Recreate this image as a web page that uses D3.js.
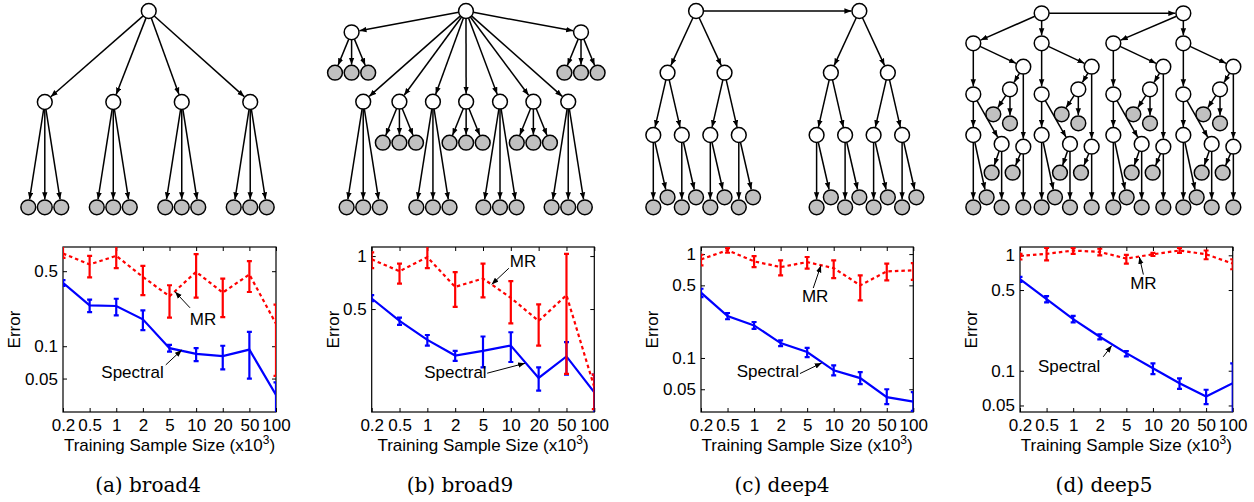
<!DOCTYPE html>
<meta charset="utf-8">
<style>
body { margin: 0; background: #fff; }
text { font-family: "Liberation Sans", Arial, sans-serif; }
.caption { font-family: "DejaVu Serif", serif; font-size: 20px; }
</style>
<svg width="1254" height="502"></svg>
<script src="https://d3js.org/d3.v7.min.js"></script>
<script>

// ---------------- data ----------------

var xLabels = ["0.2", "0.5", "1", "2", "5", "10", "20", "50", "100"];

// (a) broad4
var mrA    = [0.73, 0.578, 0.695, 0.442, 0.292, 0.493, 0.316, 0.466, 0.162];
var mrALo  = [0.665, 0.437, 0.535, 0.299, 0.185, 0.284, 0.187, 0.320, 0.053];
var mrAHi  = [0.87, 0.695, 0.87, 0.560, 0.370, 0.72, 0.427, 0.620, 0.244];
var spA    = [0.389, 0.240, 0.237, 0.178, 0.096, 0.085, 0.081, 0.093, 0.0352];
var spALo  = [0.365, 0.208, 0.194, 0.141, 0.089, 0.0726, 0.061, 0.050, 0.02];
var spAHi  = [0.412, 0.272, 0.277, 0.216, 0.103, 0.096, 0.101, 0.136, 0.046];

// (b) broad9
var mrB    = [0.958, 0.820, 0.987, 0.668, 0.745, 0.579, 0.428, 0.600, 0.18];
var mrBLo  = [0.854, 0.698, 0.854, 0.515, 0.582, 0.415, 0.310, 0.214, 0.135];
var mrBHi  = [1.05, 0.905, 1.15, 0.81, 0.905, 0.72, 0.531, 1.03, 0.212];
var spB    = [0.574, 0.428, 0.334, 0.272, 0.289, 0.310, 0.203, 0.269, 0.168];
var spBLo  = [0.554, 0.406, 0.310, 0.254, 0.233, 0.250, 0.172, 0.212, 0.12];
var spBHi  = [0.600, 0.447, 0.356, 0.289, 0.349, 0.369, 0.233, 0.324, 0.212];

// (c) deep4
var mrC    = [0.889, 1.09, 0.851, 0.75, 0.837, 0.733, 0.50, 0.682, 0.697];
var mrCLo  = [0.778, 1.03, 0.75, 0.624, 0.723, 0.588, 0.359, 0.558, 0.565];
var mrCHi  = [0.985, 1.14, 0.955, 0.87, 0.937, 0.87, 0.624, 0.809, 0.82];
var spC    = [0.425, 0.253, 0.206, 0.139, 0.114, 0.076, 0.064, 0.042, 0.038];
var spCLo  = [0.386, 0.236, 0.191, 0.130, 0.102, 0.068, 0.056, 0.036, 0.031];
var spCHi  = [0.464, 0.271, 0.222, 0.148, 0.125, 0.085, 0.073, 0.050, 0.047];

// (d) deep5
var mrD    = [0.986, 1.03, 1.10, 1.07, 0.937, 1.02, 1.10, 1.02, 0.848];
var mrDLo  = [0.92, 0.905, 1.03, 1.0, 0.848, 0.986, 1.05, 0.924, 0.757];
var mrDHi  = [1.03, 1.16, 1.16, 1.14, 1.01, 1.05, 1.16, 1.10, 0.924];
var spD    = [0.621, 0.417, 0.280, 0.197, 0.142, 0.105, 0.078, 0.0597, 0.078];
var spDLo  = [0.588, 0.391, 0.262, 0.187, 0.133, 0.0935, 0.0696, 0.0513, 0.04];
var spDHi  = [0.650, 0.443, 0.299, 0.207, 0.148, 0.116, 0.086, 0.0684, 0.116];

var yTicksA = [0.05, 0.1, 0.5];
var yTicksB = [0.5, 1];
var yTicksC = [0.05, 0.1, 0.5, 1];
var yTicksD = [0.05, 0.1, 0.5, 1];

var captions = ["(a) broad4", "(b) broad9", "(c) deep4", "(d) deep5"];

// annotations in data coords: text [index, value], arrow [from i, from v, to i, to v]
var annA = {mr: [6.26, 0.158], mrArrow: [5.77, 0.228, 5.21, 0.321], sp: [3.61, 0.0505], spArrow: [4.86, 0.067, 5.46, 0.0923]};
var annB = {mr: [6.44, 0.867], mrArrow: [5.93, 0.853, 5.31, 0.690], sp: [4.01, 0.2035], spArrow: [5.15, 0.216, 6.51, 0.246]};
var annC = {mr: [5.30, 0.345], mrArrow: [5.23, 0.471, 5.52, 0.778], sp: [3.52, 0.0652], spArrow: [4.73, 0.0708, 5.55, 0.0895]};
var annD = {mr: [5.64, 0.509], mrArrow: [5.64, 0.681, 5.49, 0.967], sp: [2.85, 0.097], spArrow: [4.13, 0.132, 4.45, 0.165]};

// tree structures: [id, parent, column, row, observed]
var broad4Nodes = [
  ["r", null, 7.3, 0, 0],
  ["a", "r", 1, 1, 0], ["b", "r", 5.15, 1, 0], ["c", "r", 9.3, 1, 0], ["d", "r", 13.45, 1, 0],
  ["a1", "a", 0, 2, 1], ["a2", "a", 1, 2, 1], ["a3", "a", 2, 2, 1],
  ["b1", "b", 4.15, 2, 1], ["b2", "b", 5.15, 2, 1], ["b3", "b", 6.15, 2, 1],
  ["c1", "c", 8.3, 2, 1], ["c2", "c", 9.3, 2, 1], ["c3", "c", 10.3, 2, 1],
  ["d1", "d", 12.45, 2, 1], ["d2", "d", 13.45, 2, 1], ["d3", "d", 14.45, 2, 1]
];

var broad9Nodes = [
  ["r", null, 7.89, 0, 0],
  ["L", "r", 1, 1, 0], ["L1", "L", 0, 2, 1], ["L2", "L", 1, 2, 1], ["L3", "L", 2, 2, 1],
  ["R", "r", 14.82, 1, 0], ["R1", "R", 13.82, 2, 1], ["R2", "R", 14.82, 2, 1], ["R3", "R", 15.82, 2, 1],
  ["m1", "r", 1.7, 3, 0], ["m1a", "m1", 0.7, 5, 1], ["m1b", "m1", 1.7, 5, 1], ["m1c", "m1", 2.7, 5, 1],
  ["m2", "r", 3.88, 3, 0], ["m2a", "m2", 2.88, 4, 1], ["m2b", "m2", 3.88, 4, 1], ["m2c", "m2", 4.88, 4, 1],
  ["m3", "r", 5.9, 3, 0], ["m3a", "m3", 4.9, 5, 1], ["m3b", "m3", 5.9, 5, 1], ["m3c", "m3", 6.9, 5, 1],
  ["m4", "r", 7.9, 3, 0], ["m4a", "m4", 6.9, 4, 1], ["m4b", "m4", 7.9, 4, 1], ["m4c", "m4", 8.9, 4, 1],
  ["m5", "r", 9.94, 3, 0], ["m5a", "m5", 8.94, 5, 1], ["m5b", "m5", 9.94, 5, 1], ["m5c", "m5", 10.94, 5, 1],
  ["m6", "r", 11.95, 3, 0], ["m6a", "m6", 10.95, 4, 1], ["m6b", "m6", 11.95, 4, 1], ["m6c", "m6", 12.95, 4, 1],
  ["m7", "r", 14.05, 3, 0], ["m7a", "m7", 13.05, 5, 1], ["m7b", "m7", 14.05, 5, 1], ["m7c", "m7", 15.05, 5, 1]
];

var deep4Nodes = [
  ["R1", null, 1.5, 0, 0], ["R2", "R1", 7.23, 0, 0],
  ["a", "R1", 0.5, 1, 0], ["b", "R1", 2.5, 1, 0], ["c", "R2", 6.23, 1, 0], ["d", "R2", 8.23, 1, 0],
  ["a1", "a", 0, 2, 0], ["a2", "a", 1, 2, 0], ["b1", "b", 2, 2, 0], ["b2", "b", 3, 2, 0],
  ["c1", "c", 5.73, 2, 0], ["c2", "c", 6.73, 2, 0], ["d1", "d", 7.73, 2, 0], ["d2", "d", 8.73, 2, 0],
  ["a1s", "a1", 0, 4, 1], ["a1t", "a1", 0.5, 3, 1], ["a2s", "a2", 1, 4, 1], ["a2t", "a2", 1.5, 3, 1],
  ["b1s", "b1", 2, 4, 1], ["b1t", "b1", 2.5, 3, 1], ["b2s", "b2", 3, 4, 1], ["b2t", "b2", 3.5, 3, 1],
  ["c1s", "c1", 5.73, 4, 1], ["c1t", "c1", 6.23, 3, 1], ["c2s", "c2", 6.73, 4, 1], ["c2t", "c2", 7.23, 3, 1],
  ["d1s", "d1", 7.73, 4, 1], ["d1t", "d1", 8.23, 3, 1], ["d2s", "d2", 8.73, 4, 1], ["d2t", "d2", 9.23, 3, 1]
];

// deep5: two linked roots, each with two branches sharing one shape
var deep5Roots = [["R1", null, 4.1, 0, 0], ["R2", "R1", 12.6, 0, 0]];
var deep5Branches = [["A", "R1", 0], ["B", "R1", 4.1], ["C", "R2", 8.4], ["D", "R2", 12.6]];
var deep5Shape = [
  ["", null, 0, 1, 0],
  ["1", "", 0, 4, 0], ["2", "", 3, 2, 0],
  ["2a", "2", 2.2, 3, 0], ["2a1", "2a", 1.2, 5, 1], ["2a2", "2a", 2.2, 6, 1],
  ["2b", "2", 3, 9, 0], ["2b1", "2b", 2.36, 10, 1], ["2b2", "2b", 3, 12, 1],
  ["1a", "1", 0, 7, 0], ["1a1", "1a", 0, 12, 1], ["1a2", "1a", 0.8, 11, 1],
  ["1b", "1", 1.7, 8, 0], ["1b1", "1b", 1.1, 10, 1], ["1b2", "1b", 1.7, 12, 1]
];

var deep5Nodes = deep5Roots.slice();
deep5Branches.forEach(function(b) {
  deep5Shape.forEach(function(s) {
    deep5Nodes.push([b[0] + s[0], s[1] === null ? b[1] : b[0] + s[1], b[2] + s[2], s[3], s[4]]);
  });
});

// ---------------- layout ----------------

var PT = 247, PB = 412, NODE_R = 7.4;

var treeLayouts = [
  {nodes: broad4Nodes, x0: 28.3, unit: 16.5, rows: [11, 102, 207.3]},
  {nodes: broad9Nodes, x0: 335, unit: 16.6, rows: [11, 32.3, 72.7, 101.7, 142.7, 207.3]},
  {nodes: deep4Nodes, x0: 653.3, unit: 28.5, rows: [11, 72.7, 135, 197.3, 207.3]},
  {nodes: deep5Nodes, x0: 973.3, unit: 16.67,
   rows: [13.3, 43.3, 66.7, 89.3, 94.3, 114.3, 123.3, 135, 144, 146.7, 172.7, 197.3, 207.3]}
];

var charts = [
  {key: "a", mr: mrA, mrLo: mrALo, mrHi: mrAHi, sp: spA, spLo: spALo, spHi: spAHi,
   domain: [0.0244, 0.840], ticks: yTicksA, ann: annA, left: 63, right: 276, ylab: 14, cap: 148},
  {key: "b", mr: mrB, mrLo: mrBLo, mrHi: mrBHi, sp: spB, spLo: spBLo, spHi: spBHi,
   domain: [0.130, 1.126], ticks: yTicksB, ann: annB, left: 371.7, right: 594.3, ylab: 333.3, cap: 460},
  {key: "c", mr: mrC, mrLo: mrCLo, mrHi: mrCHi, sp: spC, spLo: spCLo, spHi: spCHi,
   domain: [0.0302, 1.17], ticks: yTicksC, ann: annC, left: 701, right: 913.3, ylab: 652, cap: 782},
  {key: "d", mr: mrD, mrLo: mrDLo, mrHi: mrDHi, sp: spD, spLo: spDLo, spHi: spDHi,
   domain: [0.0439, 1.18], ticks: yTicksD, ann: annD, left: 1020, right: 1232.7, ylab: 971, cap: 1104}
];

var svg = d3.select("svg");
var defs = svg.append("defs");

defs.append("marker")
    .attr("id", "arrow")
    .attr("viewBox", "0 -3 7 6")
    .attr("refX", 7)
    .attr("refY", 0)
    .attr("markerWidth", 7)
    .attr("markerHeight", 6)
    .attr("markerUnits", "userSpaceOnUse")
    .attr("orient", "auto")
  .append("path")
    .attr("d", "M0,-2.7L7,0L0,2.7Z")
    .attr("fill", "#000");

svg.append("rect")
   .attr("width", 1254)
   .attr("height", 502)
   .attr("fill", "#fff");

// ---------------- trees ----------------

function drawTree(t) {
  var x = d3.scaleLinear().domain([0, 1]).range([t.x0, t.x0 + t.unit]);
  var y = d3.scaleOrdinal().domain(d3.range(t.rows.length)).range(t.rows);
  var pos = {};
  t.nodes.forEach(function(n) { pos[n[0]] = {x: x(n[2]), y: y(n[3])}; });

  var g = svg.append("g");

  g.selectAll("line")
   .data(t.nodes.filter(function(n) { return n[1] !== null; }))
   .join("line")
   .each(function(n) {
      var p = pos[n[1]], c = pos[n[0]];
      var dx = c.x - p.x, dy = c.y - p.y, len = Math.sqrt(dx * dx + dy * dy);
      var ux = dx / len, uy = dy / len;
      d3.select(this)
        .attr("x1", p.x + ux * NODE_R)
        .attr("y1", p.y + uy * NODE_R)
        .attr("x2", c.x - ux * (NODE_R + 0.6))
        .attr("y2", c.y - uy * (NODE_R + 0.6));
   })
   .attr("stroke", "#000")
   .attr("stroke-width", 1.5)
   .attr("marker-end", "url(#arrow)");

  g.selectAll("circle")
   .data(t.nodes)
   .join("circle")
   .attr("cx", function(n) { return pos[n[0]].x; })
   .attr("cy", function(n) { return pos[n[0]].y; })
   .attr("r", NODE_R)
   .attr("fill", function(n) { return n[4] ? "#c0c0c0" : "#fff"; })
   .attr("stroke", "#000")
   .attr("stroke-width", 1.5);
}

treeLayouts.forEach(drawTree);

// ---------------- error plots ----------------

function drawChart(c) {
  var x = d3.scaleLinear().domain([1, 9]).range([c.left, c.right]);
  var y = d3.scaleLog().domain(c.domain).range([PB, PT]);
  var g = svg.append("g");
  var clip = "clip_" + c.key;

  defs.append("clipPath")
      .attr("id", clip)
    .append("rect")
      .attr("x", c.left)
      .attr("y", PT)
      .attr("width", c.right - c.left)
      .attr("height", PB - PT);

  var idx = d3.range(1, 10);
  var font = "Liberation Sans, Arial, sans-serif";

  var bottom = g.append("g")
      .attr("transform", "translate(0," + PB + ")")
      .call(d3.axisBottom(x).tickValues(idx).tickFormat(function(d) { return xLabels[d - 1]; })
            .tickSizeInner(-4).tickSizeOuter(0).tickPadding(7));
  bottom.attr("font-size", 17).attr("font-family", font);

  g.append("g")
   .attr("transform", "translate(0," + PT + ")")
   .call(d3.axisTop(x).tickValues(idx).tickFormat(function() { return ""; }).tickSizeInner(-4).tickSizeOuter(0));

  var left = g.append("g")
      .attr("transform", "translate(" + c.left + ",0)")
      .call(d3.axisLeft(y).tickValues(c.ticks).tickFormat(function(d) { return String(d); })
            .tickSizeInner(-4).tickSizeOuter(0).tickPadding(5));
  left.attr("font-size", 17).attr("font-family", font);

  g.append("g")
   .attr("transform", "translate(" + c.right + ",0)")
   .call(d3.axisRight(y).tickValues(c.ticks).tickFormat(function() { return ""; }).tickSizeInner(-4).tickSizeOuter(0));

  g.selectAll(".domain").remove();

  g.append("rect")
   .attr("x", c.left)
   .attr("y", PT)
   .attr("width", c.right - c.left)
   .attr("height", PB - PT)
   .attr("fill", "none")
   .attr("stroke", "#000")
   .attr("stroke-width", 1.2);

  var line = d3.line()
      .x(function(d, i) { return x(i + 1); })
      .y(function(d) { return y(d); });

  var plot = g.append("g").attr("clip-path", "url(#" + clip + ")");

  function series(vals, lo, hi, colour, dash) {
    plot.append("path")
        .datum(vals)
        .attr("d", line)
        .attr("fill", "none")
        .attr("stroke", colour)
        .attr("stroke-width", 2.2)
        .attr("stroke-dasharray", dash);

    plot.append("g")
        .selectAll("path")
        .data(d3.range(vals.length))
        .join("path")
        .attr("d", function(i) {
          var xx = x(i + 1), y1 = y(lo[i]), y2 = y(hi[i]);
          return "M" + (xx - 2.5) + "," + y1 + "H" + (xx + 2.5) +
                 "M" + xx + "," + y1 + "V" + y2 +
                 "M" + (xx - 2.5) + "," + y2 + "H" + (xx + 2.5);
        })
        .attr("fill", "none")
        .attr("stroke", colour)
        .attr("stroke-width", 2.2);
  }

  series(c.sp, c.spLo, c.spHi, "#0000ff", null);
  series(c.mr, c.mrLo, c.mrHi, "#ff0000", "3.5,3");

  // annotations
  [[c.ann.mrArrow, c.ann.mr, "MR"], [c.ann.spArrow, c.ann.sp, "Spectral"]].forEach(function(a) {
    g.append("line")
     .attr("x1", x(a[0][0]))
     .attr("y1", y(a[0][1]))
     .attr("x2", x(a[0][2]))
     .attr("y2", y(a[0][3]))
     .attr("stroke", "#000")
     .attr("stroke-width", 1)
     .attr("marker-end", "url(#arrow)");
    g.append("text")
     .attr("x", x(a[1][0]))
     .attr("y", y(a[1][1]))
     .attr("text-anchor", "middle")
     .style("font-size", "17px")
     .text(a[2]);
  });

  // axis titles
  g.append("text")
   .attr("transform", "translate(" + c.ylab + "," + ((PT + PB) / 2) + ") rotate(-90)")
   .attr("text-anchor", "middle")
   .attr("dy", "0.35em")
   .style("font-size", "17px")
   .text("Error");

  var xt = g.append("text")
      .attr("x", (c.left + c.right) / 2)
      .attr("y", 450.7)
      .attr("text-anchor", "middle")
      .style("font-size", "17px");
  xt.append("tspan").text("Training Sample Size (x10");
  xt.append("tspan").attr("dy", -7).style("font-size", "12px").text("3");
  xt.append("tspan").attr("dy", 7).text(")");

  svg.append("text")
     .attr("class", "caption")
     .attr("x", c.cap)
     .attr("y", 491.7)
     .attr("text-anchor", "middle")
     .text(captions[charts.indexOf(c)]);
}

charts.forEach(drawChart);

</script>
